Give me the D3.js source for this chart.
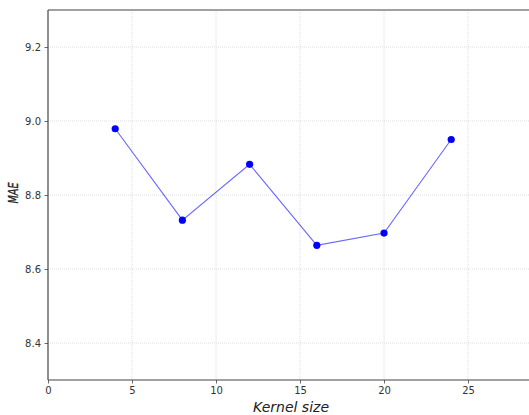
<!DOCTYPE html>
<html><head><meta charset="utf-8">
<script src="https://cdn.jsdelivr.net/npm/d3@7"></script>
<style>body{margin:0;background:#fff}svg{display:block}</style>
</head><body>
<svg id="c" width="529" height="415"></svg>
<script>
const kernelSizes = [4, 8, 12, 16, 20, 24];
const maeValues = [8.979, 8.732, 8.883, 8.664, 8.697, 8.950];
const xTicks = [0, 5, 10, 15, 20, 25];
const yTicks = [8.4, 8.6, 8.8, 9.0, 9.2];
const xLabel = "Kernel size";
const yLabel = "MAE";

const svg = d3.select("#c");
const L = 48, R = 529, T = 10, B = 380;
const x = d3.scaleLinear().domain([0, 28.63]).range([L, R]);
const y = d3.scaleLinear().domain([8.3, 9.3]).range([B, T]);

// grid
const grid = svg.append("g");
grid.selectAll("line.vx").data(xTicks.filter(d => d > 0)).join("line")
  .attr("x1", d => x(d)).attr("x2", d => x(d)).attr("y1", T).attr("y2", B)
  .attr("stroke", "#d6d6d6").attr("stroke-width", 0.8).attr("stroke-dasharray", "1,1");
grid.selectAll("line.hy").data(yTicks).join("line")
  .attr("x1", L).attr("x2", R).attr("y1", d => y(d)).attr("y2", d => y(d))
  .attr("stroke", "#d6d6d6").attr("stroke-width", 0.8).attr("stroke-dasharray", "1,1");

// axes
const fmtY = d3.format(".1f");
const xa = svg.append("g").attr("transform", `translate(0,${B})`)
  .call(d3.axisBottom(x).tickValues(xTicks).tickSize(3.5).tickPadding(3.5).tickSizeOuter(0));
const ya = svg.append("g").attr("transform", `translate(${L},0)`)
  .call(d3.axisLeft(y).tickValues(yTicks).tickFormat(fmtY).tickSize(3.5).tickPadding(3.5).tickSizeOuter(0));
[xa, ya].forEach(a => {
  a.selectAll("text").attr("font-family", "DejaVu Sans").attr("font-size", 10).attr("fill", "#333");
  a.selectAll("line").attr("stroke", "#444").attr("stroke-width", 0.8);
  a.select(".domain").remove();
});
// spines (left, top, bottom; right side is cropped)
svg.append("line").attr("x1", L).attr("x2", L).attr("y1", T).attr("y2", B).attr("stroke", "#444").attr("stroke-width", 1.2);
svg.append("line").attr("x1", L).attr("x2", R).attr("y1", T).attr("y2", T).attr("stroke", "#444").attr("stroke-width", 1.2);
svg.append("line").attr("x1", L).attr("x2", R).attr("y1", B).attr("y2", B).attr("stroke", "#444").attr("stroke-width", 1.2);

// line
const pts = kernelSizes.map((k, i) => [k, maeValues[i]]);
svg.append("path").datum(pts)
  .attr("d", d3.line().x(d => x(d[0])).y(d => y(d[1])))
  .attr("fill", "none").attr("stroke", "#0000ff").attr("stroke-opacity", 0.6).attr("stroke-width", 1.1);
svg.selectAll("circle.pt").data(pts).join("circle")
  .attr("cx", d => x(d[0])).attr("cy", d => y(d[1])).attr("r", 3.6).attr("fill", "#0000ff");

// labels
svg.append("text").attr("x", 291).attr("y", 412).attr("text-anchor", "middle")
  .attr("font-family", "DejaVu Sans").attr("font-style", "italic").attr("font-size", 14).attr("fill", "#222")
  .text(xLabel);
svg.append("text").attr("transform", "translate(17.5,193) rotate(-90)").attr("text-anchor", "middle")
  .attr("font-family", "DejaVu Sans").attr("font-style", "italic").attr("font-size", 13.5).attr("fill", "#222")
  .attr("stroke", "#222").attr("stroke-width", 0.3)
  .attr("textLength", 21).attr("lengthAdjust", "spacingAndGlyphs")
  .text(yLabel);
</script>
</body></html>
